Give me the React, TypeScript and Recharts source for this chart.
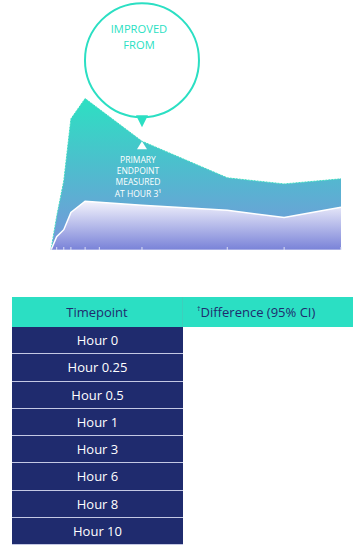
import React from "react";
import { AreaChart, Area, XAxis, YAxis, ReferenceDot } from "recharts";

// hours after dose (first point is the pre-dose start of the curve)
const hours = [-0.2, 0, 0.25, 0.5, 1, 3, 6, 8, 10];
const upperValues = [0, 33, 68, 129, 149, 107, 71, 65, 70];
const lowerValues = [0, 13, 20, 37, 48, 44, 39, 32, 42];
const axisTicks = [-0.2, 0, 0.25, 0.5, 1, 1.5, 3, 6, 8, 10];

const calloutHour = 3;
const calloutTitle = ["IMPROVED", "FROM"];
const calloutNote = ["PRIMARY", "ENDPOINT", "MEASURED", "AT HOUR 3\u00b9"];

const tableHeaders = ["Timepoint", "Difference (95% CI)"];
const timepoints = ["Hour 0", "Hour 0.25", "Hour 0.5", "Hour 1", "Hour 3", "Hour 6", "Hour 8", "Hour 10"];

const data = hours.map((h, i) => ({ hour: h, upper: upperValues[i], lower: lowerValues[i] }));

const FONT = "'Segoe UI', 'Open Sans', sans-serif";
const TEAL = "#2bdfc3";
const NAVY = "#1f2b6e";

const NoLabel = () => <g />;

const Callout = (props: any) => {
  const { cx, cy } = props;
  if (cx == null || cy == null) return null;
  return (
    <g>
      <circle cx={cx} cy={cy - 81} r={57} fill="#fff" stroke={TEAL} strokeWidth={2} />
      <path d={`M${cx - 6},${cy - 26} L${cx + 6},${cy - 26} L${cx},${cy - 14} Z`} fill={TEAL} />
      <path d={`M${cx},${cy} L${cx + 5},${cy + 8} L${cx - 5},${cy + 8} Z`} fill="#fff" />
      <text textAnchor="middle" fill={TEAL} fontSize={11.2} fontFamily={FONT}>
        {calloutTitle.map((t, i) => (
          <tspan key={t} x={cx - 3} y={cy - 108 + i * 15.4}>
            {t}
          </tspan>
        ))}
      </text>
      <text textAnchor="middle" fill="#fff" fontSize={8.5} fontFamily={FONT}>
        {calloutNote.map((t, i) => (
          <tspan key={t} x={cx - 4} y={cy + 21.8 + i * 11.2}>
            {t}
          </tspan>
        ))}
      </text>
    </g>
  );
};

export default function App() {
  const calloutValue = upperValues[hours.indexOf(calloutHour)];
  return (
    <div style={{ position: "absolute", left: 0, top: 0, width: 353, height: 546, overflow: "hidden", background: "#fff", fontFamily: FONT }}>
      <div style={{ position: "absolute", left: 0, top: 0 }}>
        <AreaChart width={353} height={250} data={data} margin={{ top: 6, right: 12, bottom: 0, left: 51 }}>
          <defs>
            <linearGradient id="upperFill" x1="0" y1="0" x2="0" y2="1">
              <stop offset="0%" stopColor="#2de0c2" />
              <stop offset="55%" stopColor="#55b6d0" />
              <stop offset="100%" stopColor="#7a94dc" />
            </linearGradient>
            <linearGradient id="lowerFill" x1="0" y1="0" x2="0" y2="1">
              <stop offset="0%" stopColor="#f3f3fc" />
              <stop offset="100%" stopColor="#7982d8" />
            </linearGradient>
          </defs>
          <XAxis
            dataKey="hour"
            type="number"
            domain={[-0.2, 10]}
            ticks={axisTicks}
            interval={0}
            height={4}
            mirror
            tickSize={3}
            tick={<NoLabel />}
            stroke="#d4d6f0"
            tickLine={{ stroke: "#dfe1f5" }}
          />
          <YAxis hide domain={[0, 240]} />
          <Area
            type="linear"
            dataKey="upper"
            stroke="#3fdcc2"
            strokeWidth={1}
            strokeDasharray="2 1"
            fill="url(#upperFill)"
            fillOpacity={1}
            dot={false}
            activeDot={false}
            isAnimationActive={false}
          />
          <Area
            type="linear"
            dataKey="lower"
            stroke="#ffffff"
            strokeWidth={1.5}
            fill="url(#lowerFill)"
            fillOpacity={1}
            dot={false}
            activeDot={false}
            isAnimationActive={false}
          />
          <ReferenceDot x={calloutHour} y={calloutValue} ifOverflow="visible" shape={Callout} />
        </AreaChart>
      </div>
      <div style={{ position: "absolute", left: 12, top: 297, width: 341 }}>
        <div style={{ display: "flex", height: 30, background: TEAL, color: NAVY, fontSize: 13 }}>
          <div style={{ width: 171, display: "flex", alignItems: "center", justifyContent: "center", borderRight: "1px solid #3cd0bd", boxSizing: "border-box" }}>
            {tableHeaders[0]}
          </div>
          <div style={{ flex: 1, display: "flex", alignItems: "center", paddingLeft: 14 }}>
            <sup style={{ fontSize: 7, alignSelf: "flex-start", marginTop: 7 }}>{"\u2020"}</sup>
            {tableHeaders[1]}
          </div>
        </div>
        {timepoints.map((t) => (
          <div
            key={t}
            style={{
              width: 171,
              height: 27.25,
              boxSizing: "border-box",
              background: NAVY,
              color: "#fff",
              fontSize: 13,
              display: "flex",
              alignItems: "center",
              justifyContent: "center",
              borderBottom: "1.25px solid #c4c8e4",
            }}
          >
            {t}
          </div>
        ))}
      </div>
    </div>
  );
}
